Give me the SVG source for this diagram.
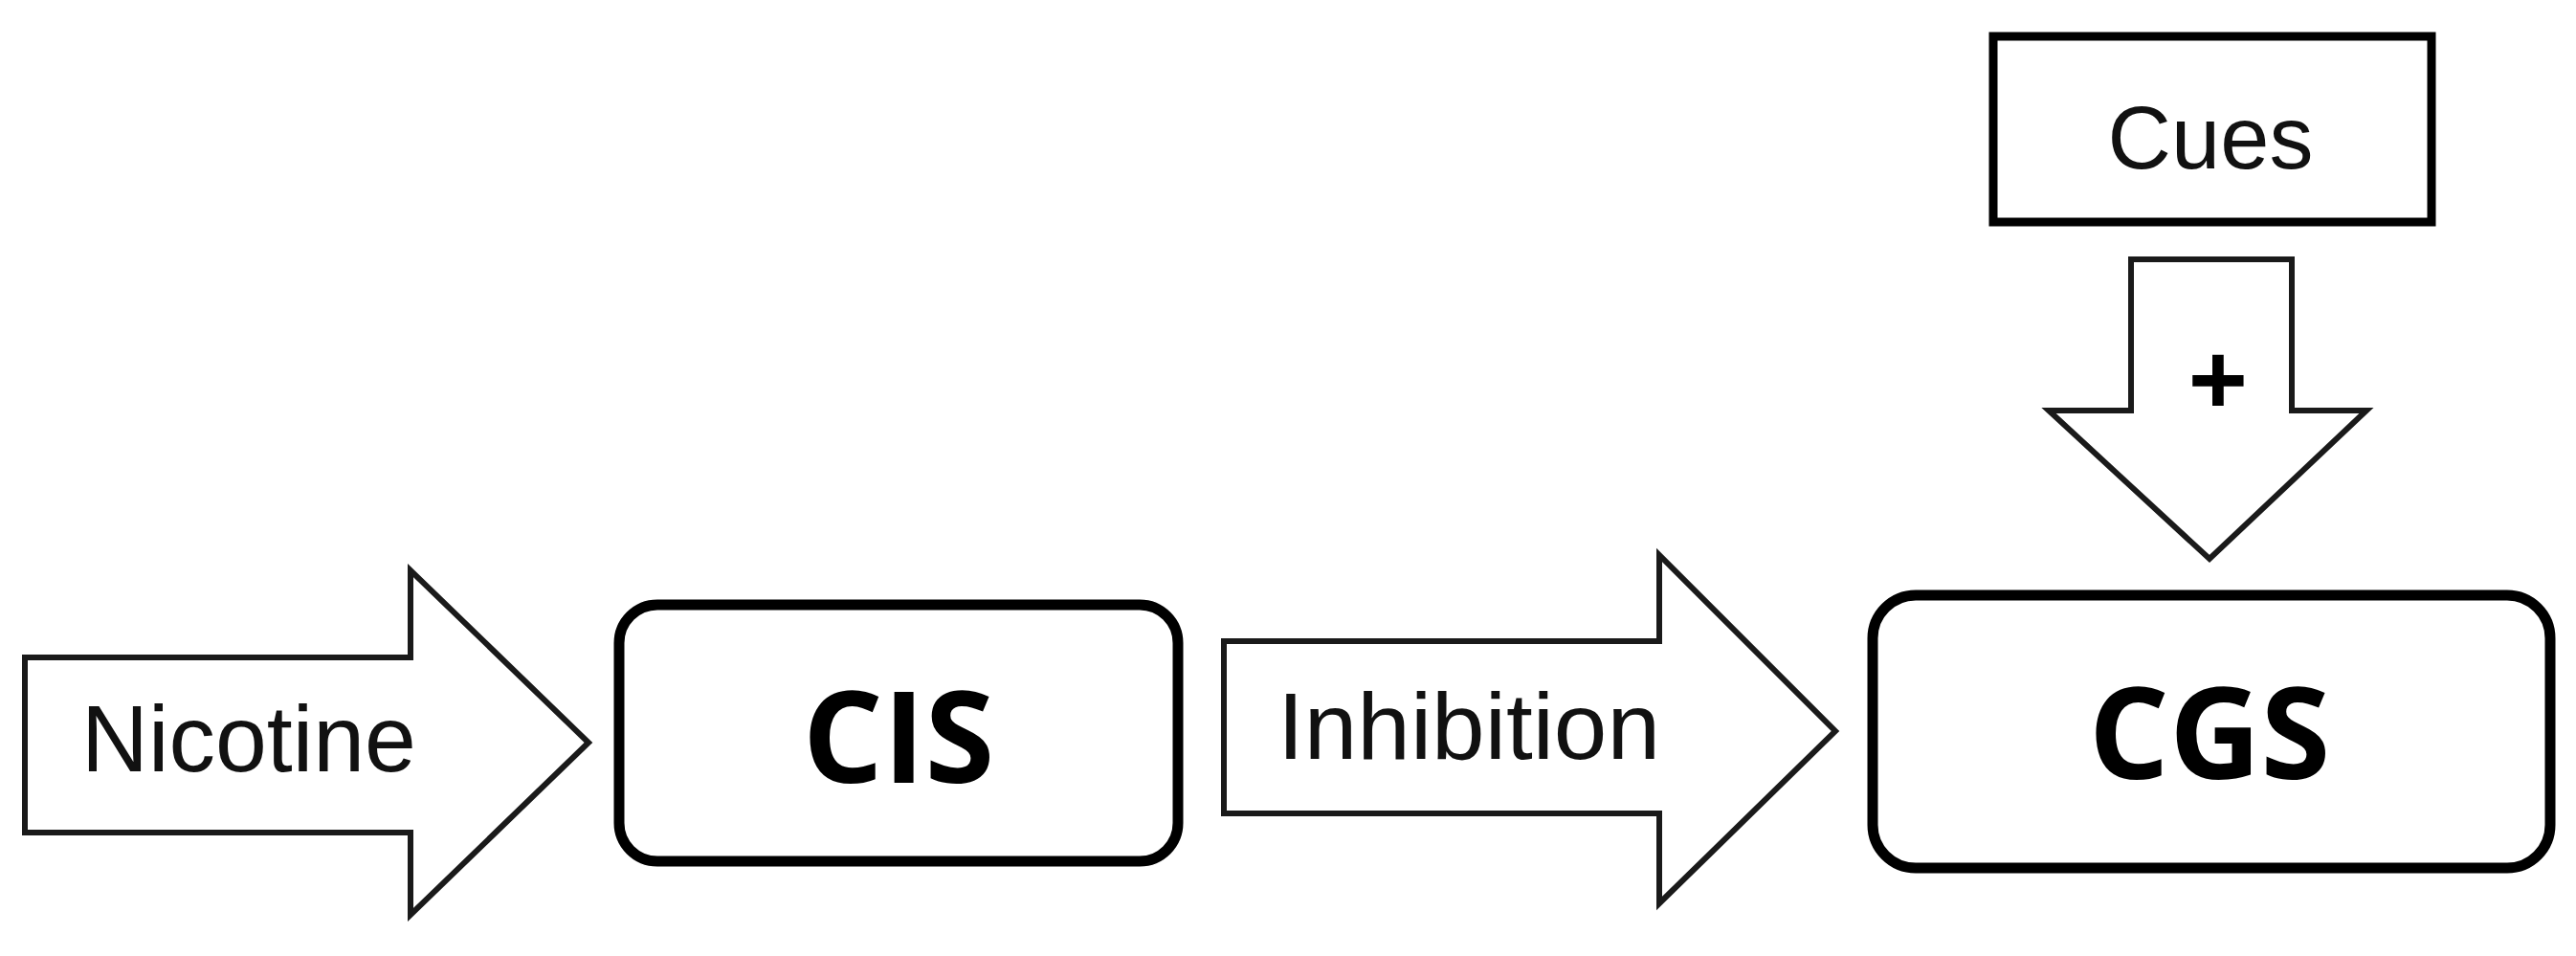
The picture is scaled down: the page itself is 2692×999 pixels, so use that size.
<svg xmlns="http://www.w3.org/2000/svg" width="2692" height="999" viewBox="0 0 2692 999">
<style>
.arr{fill:#fff;stroke:#1a1a1a;stroke-width:6;stroke-linejoin:miter}
.box{fill:#fff;stroke:#000;stroke-width:11}
.t{font-family:"Liberation Sans",Arial,sans-serif;fill:#111;text-anchor:middle}
.b{font-family:"Open Sans","Liberation Sans",sans-serif;font-weight:bold;fill:#000;text-anchor:middle}
</style>
<rect width="2692" height="999" fill="#fff"/>
<g id="connectors">
<g id="nicotine-arrow"><polygon class="arr" points="26,687 429,687 429,596 615,776 429,956 429,870 26,870"/>
<text class="t" x="260" y="806" font-size="98" textLength="350" lengthAdjust="spacingAndGlyphs">Nicotine</text></g>
<g id="inhibition-arrow"><polygon class="arr" points="1279,670 1734,670 1734,580 1918,764 1734,944 1734,850 1279,850"/>
<text class="t" x="1535" y="793" font-size="98" textLength="400" lengthAdjust="spacingAndGlyphs">Inhibition</text></g>
<g id="plus-arrow"><polygon class="arr" points="2227,271 2395,271 2395,429 2473,429 2309,584 2141,429 2227,429"/>
<text class="b" x="2318" y="436" font-size="110">+</text></g>
</g>
<g id="cis"><rect class="box" x="647" y="632" width="584" height="268" rx="40"/>
<text class="b" x="939" y="818" font-size="132">CIS</text></g>
<g id="cgs"><rect class="box" x="1957" y="622" width="708" height="285" rx="45"/>
<text class="b" x="2309" y="814" font-size="132">CGS</text></g>
<g id="cues"><rect class="box" x="2083" y="38" width="458" height="194" style="stroke-width:9"/>
<text class="t" x="2310" y="176" font-size="92">Cues</text></g>
</svg>
